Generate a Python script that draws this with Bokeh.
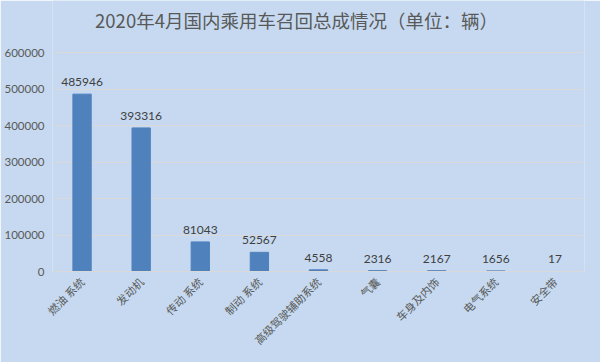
import math
from bokeh.plotting import figure
from bokeh.models import ColumnDataSource, LabelSet, Label, Range1d, NumeralTickFormatter, FixedTicker
from bokeh.core.properties import value
from bokeh.embed import file_html
from bokeh.resources import INLINE

categories = ["燃油 系统", "发动机", "传动 系统", "制动 系统", "高级驾驶辅助系统", "气囊", "车身及内饰", "电气系统", "安全带"]
values = [485946, 393316, 81043, 52567, 4558, 2316, 2167, 1656, 17]
y_ticks = [0, 100000, 200000, 300000, 400000, 500000, 600000]
title_text = "2020年4月国内乘用车召回总成情况（单位：辆）"

BG = "#C6D9F0"

# layout (pixels): plot area from y=52 (600000) to y=271 (0); frame extended to top for the title
FRAME_BOTTOM = 271
AXIS_TOP = 52
y_max_tick = y_ticks[-1]
y_end = y_max_tick * FRAME_BOTTOM / (FRAME_BOTTOM - AXIS_TOP)

src = ColumnDataSource(data=dict(cat=categories, val=values, lab=[str(v) for v in values]))

p = figure(x_range=categories, y_range=Range1d(0, y_end), width=600, height=362,
           output_backend="svg", toolbar_location=None,
           min_border_left=52, min_border_right=16, min_border_top=0, min_border_bottom=91)
p.background_fill_color = BG
p.border_fill_color = BG
p.outline_line_color = None

p.vbar(x="cat", top="val", width=0.31, source=src, color="#4F81BD")

labels = LabelSet(x="cat", y="val", text="lab", source=src, text_align="center",
                  text_baseline="bottom", y_offset=8, text_font=value("Lato"),
                  text_font_size="12px", text_color="#404040")
p.add_layout(labels)

title = Label(x=244, y=FRAME_BOTTOM - 19, x_units="screen", y_units="screen", text=title_text,
              text_align="center", text_baseline="middle", text_font="Noto Sans CJK SC",
              text_font_size="18.5px", text_color="#595959")
p.add_layout(title)

p.yaxis.ticker = FixedTicker(ticks=y_ticks)
p.yaxis.formatter = NumeralTickFormatter(format="0")
p.yaxis.axis_line_color = None
p.yaxis.major_tick_line_color = None
p.yaxis.minor_tick_line_color = None
p.yaxis.major_tick_out = 0
p.yaxis.major_label_text_font = "Lato"
p.yaxis.major_label_text_font_size = "11.5px"
p.yaxis.major_label_text_color = "#595959"
p.yaxis.major_label_standoff = 8

p.xaxis.axis_line_color = "#D9D9D9"
p.xaxis.major_tick_line_color = None
p.xaxis.minor_tick_line_color = None
p.xaxis.major_tick_out = 0
p.xaxis.major_tick_in = 0
p.xaxis.axis_label_standoff = 0
p.xaxis.major_label_orientation = math.pi / 4
p.xaxis.major_label_text_font = "Noto Sans CJK SC"
p.xaxis.major_label_text_font_size = "11px"
p.xaxis.major_label_text_color = "#595959"
p.xaxis.major_label_standoff = 8

p.xgrid.grid_line_color = None
p.ygrid.grid_line_color = "#D9D9D9"
p.ygrid.grid_line_width = 1

open("out.html", "w").write(file_html(p, INLINE))
